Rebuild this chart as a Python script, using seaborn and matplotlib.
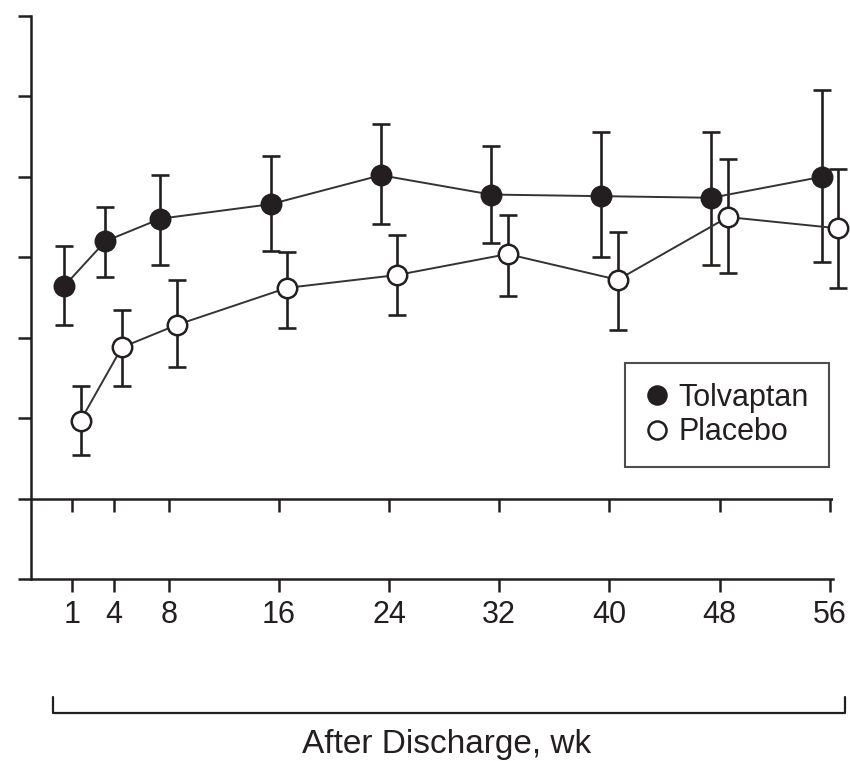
import matplotlib
matplotlib.use("Agg")
import matplotlib.pyplot as plt
from matplotlib.lines import Line2D
import matplotlib.markers as mmarkers
import numpy as np
import pandas as pd
import seaborn as sns

# ---- data ----
weeks = [1, 4, 8, 16, 24, 32, 40, 48, 56]
week_labels = ["1", "4", "8", "16", "24", "32", "40", "48", "56"]

tolvaptan_mean = [13.2, 16.0, 17.4, 18.3, 20.1, 18.9, 18.8, 18.7, 20.0]
tolvaptan_low = [10.8, 13.8, 14.5, 15.4, 17.1, 15.9, 15.0, 14.5, 14.7]
tolvaptan_high = [15.7, 18.1, 20.1, 21.3, 23.3, 21.9, 22.8, 22.8, 25.4]

placebo_mean = [4.85, 9.4, 10.8, 13.1, 13.9, 15.2, 13.6, 17.5, 16.8]
placebo_low = [2.7, 7.0, 8.15, 10.6, 11.4, 12.6, 10.45, 14.0, 13.1]
placebo_high = [7.0, 11.75, 13.6, 15.3, 16.4, 17.6, 16.6, 21.1, 20.5]

y_ticks = [-5, 0, 5, 10, 15, 20, 25, 30]
groups = ["Tolvaptan", "Placebo"]

# ---- style ----
INK = "#231f20"
FONT = ["Liberation Sans", "DejaVu Sans"]
sns.set_theme(style="white")
plt.rcParams["font.family"] = FONT

W, H = 850, 761
fig = plt.figure(figsize=(W / 100, H / 100), dpi=100)
ax_left, ax_right, ax_top, ax_bottom = 31, 833, 16, 579
ax = fig.add_axes([ax_left / W, 1 - ax_bottom / H,
                   (ax_right - ax_left) / W, (ax_bottom - ax_top) / H])

offset = 0.6
df = pd.DataFrame({
    "week": weeks * 2,
    "pos": [w - offset for w in weeks] + [w + offset for w in weeks],
    "value": tolvaptan_mean + placebo_mean,
    "low": tolvaptan_low + placebo_low,
    "high": tolvaptan_high + placebo_high,
    "group": [groups[0]] * len(weeks) + [groups[1]] * len(weeks),
})

face = {"Tolvaptan": INK, "Placebo": "white"}
for g in groups:
    sub = df[df["group"] == g]
    eb = ax.errorbar(sub["pos"], sub["value"],
                     yerr=[sub["value"] - sub["low"], sub["high"] - sub["value"]],
                     fmt="none", ecolor=INK, elinewidth=1.9, capsize=6.5,
                     capthick=1.9, zorder=2)
    for art in eb.lines[1] + eb.lines[2]:
        art.set_clip_on(False)
    sns.lineplot(data=sub, x="pos", y="value", ax=ax, color="#333333",
                 linewidth=1.4, marker="o", markersize=14,
                 markerfacecolor=face[g], markeredgecolor=INK,
                 markeredgewidth=1.8, zorder=3, legend=False, clip_on=False)

# zero line with small downward ticks
ax.axhline(0, color=INK, lw=1.8, zorder=1)
ax.plot(weeks, [0] * len(weeks), ls="none", marker=mmarkers.TICKDOWN,
        ms=9, mew=1.8, color=INK, zorder=1, clip_on=False)

ax.set_xlim(-2.0, 56.23)
ax.set_ylim(-5, 30)
ax.set_xticks(weeks)
ax.set_xticklabels(week_labels)
ax.set_yticks(y_ticks)
ax.set_yticklabels([])
ax.set_xlabel("")
ax.set_ylabel("")

for s in ["top", "right"]:
    ax.spines[s].set_visible(False)
for s in ["left", "bottom"]:
    ax.spines[s].set_color(INK)
    ax.spines[s].set_linewidth(1.8)

ax.tick_params(axis="both", direction="out", length=9.4, width=1.8,
               color=INK, labelcolor=INK, labelsize=22, pad=6,
               bottom=True, left=True)

# legend
handles = [
    Line2D([], [], ls="none", marker="o", ms=13, mfc=INK, mec=INK, mew=1.8),
    Line2D([], [], ls="none", marker="o", ms=13, mfc="white", mec=INK, mew=1.8),
]
leg = ax.legend(handles, groups, loc="upper left",
                bbox_to_anchor=(625 / W, 1 - 363 / H),
                bbox_transform=fig.transFigure, borderaxespad=0,
                fontsize=22, frameon=True, fancybox=False,
                borderpad=0.65, handlelength=0.8, handletextpad=0.3,
                labelspacing=0.15)
leg.get_frame().set_edgecolor(INK)
leg.get_frame().set_linewidth(1.5)
for t in leg.get_texts():
    t.set_color(INK)

# bracket under the axis and its label
bx = [53, 53, 845, 845]
by = [697, 713, 713, 697]
fig.add_artist(Line2D([x / W for x in bx], [1 - y / H for y in by],
                      color=INK, lw=1.6, transform=fig.transFigure))
fig.text(447 / W, 1 - 753 / H, "After Discharge, wk", ha="center",
         va="baseline", fontsize=24, color=INK)

fig.savefig("out.png", dpi=100, facecolor="white")
